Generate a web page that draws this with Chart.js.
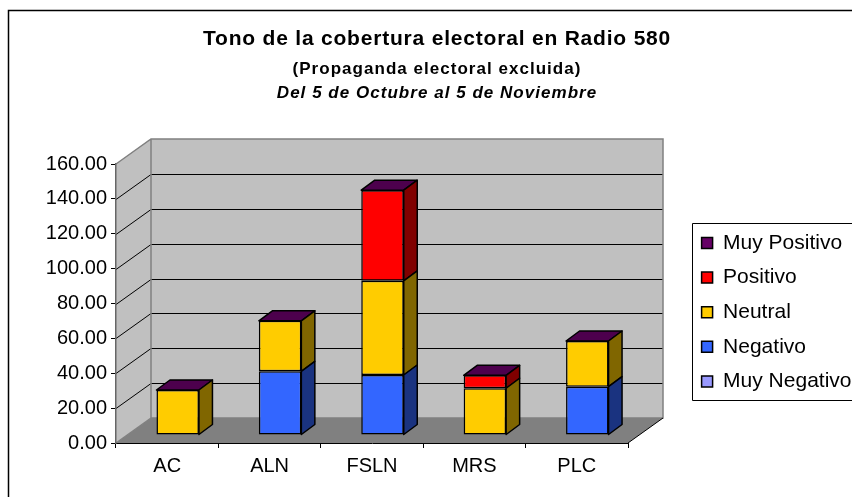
<!DOCTYPE html>
<html><head><meta charset="utf-8">
<script src="https://cdn.jsdelivr.net/npm/chart.js@4"></script>
<style>html,body{margin:0;padding:0;background:#fff}canvas{display:block}</style></head>
<body><canvas id="c" width="852" height="497"></canvas>
<script>
const categories = ["AC","ALN","FSLN","MRS","PLC"];
const muyNegativo = [0,0,0,0,0];
const negativo = [0,36.5,34.4,0,27.7];
const neutral = [25.8,29,54,26.8,26.2];
const positivo = [0,0,52,7.4,0];
const muyPositivo = [0,0,0,0,0];
const titleText = "Tono de la cobertura electoral en Radio 580";
const subtitleText = "(Propaganda electoral excluida)";
const periodText = "Del 5 de Octubre al 5 de Noviembre";
const FONT = "'Liberation Sans', Arial, sans-serif";
const wall = {dx:35, dy:25};
const bar3d = {ox:10.5, oy:8, dx:13.5, dy:10};
function ds(label, data, color, side){
  return {label, data, backgroundColor:color, side, borderColor:"#000", borderWidth:1.5, borderSkipped:false, clip:false,
    stack:"s", barPercentage:0.415, categoryPercentage:1};
}
function poly(ctx, pts, fill, stroke, lw){
  ctx.beginPath();
  pts.forEach((p,i)=> i?ctx.lineTo(p[0],p[1]):ctx.moveTo(p[0],p[1]));
  ctx.closePath();
  if(fill){ctx.fillStyle=fill;ctx.fill();}
  if(stroke){ctx.strokeStyle=stroke;ctx.lineWidth=lw;ctx.stroke();}
}
const plugin3d = {
  id:"p3d",
  afterLayout(chart){
    const l = chart.legend;
    l.left=688; l.right=852; l.top=218.9; l.bottom=497;
  },
  beforeDraw(chart){
    const c=chart.ctx, a=chart.chartArea, y=chart.scales.y, {dx,dy}=wall;
    c.save();
    c.fillStyle="#fff"; c.fillRect(0,0,852,497);
    c.strokeStyle="#000"; c.lineWidth=1.5;
    c.beginPath(); c.moveTo(8.5,497); c.lineTo(8.5,10.5); c.lineTo(852,10.5); c.stroke();
    c.lineWidth=1;
    c.beginPath(); c.rect(692.5,223.5,170,177); c.stroke();
    const b=a.bottom,t=a.top,L=a.left,R=a.right;
    poly(c,[[L,b],[L+dx,b-dy],[R+dx,b-dy],[R,b]],"#808080",null);
    poly(c,[[L+dx,t-dy],[R+dx,t-dy],[R+dx,b-dy],[L+dx,b-dy]],"#c0c0c0",null);
    poly(c,[[L,t],[L+dx,t-dy],[L+dx,b-dy],[L,b]],"#c0c0c0",null);
    c.strokeStyle="#000"; c.lineWidth=1;
    y.ticks.forEach(k=>{
      if(k.value===0||k.value===160) return;
      const p=Math.round(y.getPixelForValue(k.value))+0.5;
      c.beginPath(); c.moveTo(L,p); c.lineTo(L+dx,p-dy); c.lineTo(R+dx,p-dy); c.stroke();
    });
    c.strokeStyle="#808080"; c.lineWidth=1.5;
    c.beginPath(); c.moveTo(L,t); c.lineTo(L+dx,t-dy); c.lineTo(R+dx,t-dy); c.lineTo(R+dx,b-dy); c.lineTo(L+dx,b-dy); c.lineTo(L+dx,t-dy); c.stroke();
    c.beginPath(); c.moveTo(L+dx,b-dy); c.lineTo(L,b); c.stroke();
    c.strokeStyle="#000"; c.lineWidth=1;
    c.beginPath(); c.moveTo(R,b); c.lineTo(R+dx,b-dy); c.stroke();
    c.restore();
  },
  beforeDatasetDraw(chart){
    chart.ctx.save(); chart.ctx.translate(bar3d.ox,-bar3d.oy);
  },
  afterDatasetDraw(chart,args){
    const c=chart.ctx, meta=args.meta, d=chart.data.datasets[args.index], {dx,dy}=bar3d;
    const last=args.index===chart.data.datasets.length-1;
    meta.data.forEach((el,i)=>{
      const r=el.x+el.width/2, l=el.x-el.width/2, top=el.y, base=el.base;
      c.lineJoin="round";
      if(d.data[i]>0) poly(c,[[r,top],[r+dx,top-dy],[r+dx,base-dy],[r,base]],d.side,"#000",1.5);
      if(last) poly(c,[[l,top],[l+dx,top-dy],[r+dx,top-dy],[r,top]],d.side,"#000",1.5);
    });
    c.restore();
  },
  afterDraw(chart){
    const c=chart.ctx;
    c.save(); c.fillStyle="#000"; c.textAlign="center"; c.textBaseline="middle";
    const line=(txt,font,sp,y)=>{c.font=font+" "+FONT; c.letterSpacing=sp+"px"; c.fillText(txt,437,y);};
    line(titleText,"bold 21px",0.8,39);
    line(subtitleText,"bold 17px",1.03,69);
    line(periodText,"italic bold 17px",1.03,93);
    c.restore();
  }
};
new Chart(document.getElementById("c"),{
  type:"bar",
  data:{labels:categories,datasets:[
    ds("Muy Negativo",muyNegativo,"#9999ff","#4d4d80"),
    ds("Negativo",negativo,"#3366ff","#1a3380"),
    ds("Neutral",neutral,"#ffcc00","#806600"),
    ds("Positivo",positivo,"#ff0000","#800000"),
    ds("Muy Positivo",muyPositivo,"#660066","#4d004d")
  ]},
  plugins:[plugin3d],
  options:{
    responsive:false, animation:false, devicePixelRatio:1,
    layout:{padding:{left:0,top:164,right:224,bottom:0}},
    plugins:{
      tooltip:{enabled:false},
      title:{display:false},
      legend:{position:"chartArea",align:"start",reverse:true,
        labels:{color:"#000",font:{family:FONT,size:21},boxWidth:11,boxHeight:11,padding:13.6}}
    },
    scales:{
      x:{stacked:true,offset:true,
        afterFit(s){s.height=54;},
        grid:{drawOnChartArea:false,drawTicks:true,tickLength:5,color:"#000",tickColor:"#000",offset:true},
        border:{display:true,color:"#000",width:1},
        ticks:{color:"#000",font:{family:FONT,size:20},padding:6,maxRotation:0}},
      y:{stacked:true,min:0,max:160,
        afterFit(s){s.width=116;},
        grid:{drawOnChartArea:false,drawTicks:true,tickLength:5,color:"#000",tickColor:"#000"},
        border:{display:true,color:"#666",width:1.5},
        ticks:{color:"#000",stepSize:20,font:{family:FONT,size:20},padding:4,callback:v=>v.toFixed(2)}}
    }
  }
});
</script></body></html>
